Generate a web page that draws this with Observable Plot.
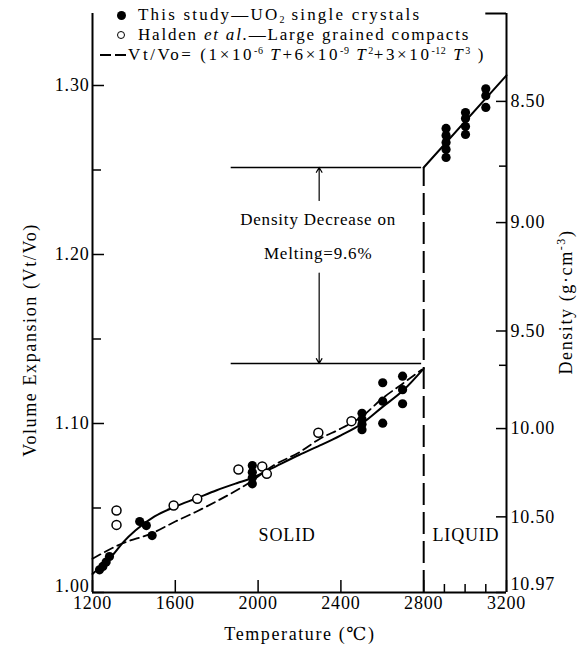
<!DOCTYPE html>
<html><head><meta charset="utf-8">
<script src="https://cdn.jsdelivr.net/npm/d3@7"></script>
<script src="https://cdn.jsdelivr.net/npm/@observablehq/plot@0.6"></script>
<style>
body{margin:0;background:#fff;}
#chart{position:relative;width:586px;height:651px;font-family:"Liberation Serif","DejaVu Serif",serif;color:#000;}
#chart svg{position:absolute;left:0;top:0;}
#chart svg text{letter-spacing:0.8px;}
#chart svg g[aria-label="phase"] text{letter-spacing:3px;}
#chart svg g[aria-label="note"] text{letter-spacing:1.2px;}
.lg{position:absolute;font-size:17px;white-space:nowrap;line-height:18px;height:18px;letter-spacing:1.6px;}
.lg .m{display:inline-block;width:36px;height:10px;position:relative;vertical-align:baseline;}
.lg .s{position:relative;font-size:10px;line-height:0;letter-spacing:0.5px;}
.ttl{position:absolute;font-size:18px;white-space:nowrap;letter-spacing:1.6px;line-height:20px;}
</style>
</head><body><div id="chart"></div>
<script>
// ---- data ----
const studyT = [1234,1250,1266,1282, 1428,1460,1488, 1972,1972,1972,1972, 2502,2502,2502,2502, 2602,2602,2602, 2698,2698,2698, 2908,2908,2908,2908,2908, 3002,3002,3002,3002, 3100,3100,3100];
const studyV = [1.0134,1.0154,1.018,1.0213, 1.042,1.0396,1.0337, 1.0751,1.0712,1.0679,1.0643, 1.106,1.1025,1.0995,1.0963, 1.1241,1.1132,1.1002, 1.128,1.120,1.1117, 1.2746,1.2704,1.2663,1.2621,1.2574, 1.2840,1.2805,1.2757,1.2710, 1.298,1.294,1.287];
const haldenT = [1316,1316,1592,1706,1905,2020,2042,2291,2451];
const haldenV = [1.0485,1.040,1.0515,1.0554,1.0728,1.0746,1.0702,1.0945,1.1014];
const fitT = [1200,1250,1300,1350,1407,1500,1600,1700,1800,1900,1961,2058,2200,2299,2400,2500,2600,2700,2800];
const fitV = [1.011,1.0165,1.0225,1.030,1.0367,1.045,1.0508,1.0556,1.0605,1.0648,1.0673,1.073,1.0815,1.087,1.093,1.0998,1.1097,1.1195,1.1325];
const formulaT = [1200,1343,1487,1600,1696,1800,1961,2074,2200,2299,2400,2500,2600,2700,2790];
const formulaV = [1.020,1.029,1.035,1.042,1.0475,1.054,1.0653,1.0751,1.083,1.091,1.097,1.104,1.1148,1.1237,1.1318];
const liquidT = [2800,3200];
const liquidV = [1.2515,1.306];
const meltT = 2800;
const meltLevels = [1.2515,1.1355]; // liquid / solid at melting
const xTicks = [1200,1600,2000,2400,2800,3200];
const xMinorTicks = [2900,3000,3100];
const yTicksUpper = [1.10,1.20,1.30];
const yTickBottom = [1.00];
const yMinorTicks = [1.05,1.15,1.25];
const densityRef = 10.97;
const densityTicksUpper = [8.50,9.00,9.50,10.00,10.50];
const densityTickBottom = [10.97];
const densityMinorTicks = [8.76,9.67];
const yTop = 1.3426;

const pts = (T,V) => T.map((t,i)=>({t, v:V[i]}));
const study = pts(studyT, studyV);
const halden = pts(haldenT, haldenV);
const fit = pts(fitT, fitV);
const formula = pts(formulaT, formulaV);
const liquid = pts(liquidT, liquidV);

const W = 586, H = 651, mL = 92, mR = 80, mT = 13, mB = 59;
const fw = W - mL - mR, fh = H - mT - mB;
const tickIn = (len) => fw - len;
const tickUp = (len) => fh - len;
const yAll = [...yTickBottom, ...yTicksUpper];
const dAll = [...densityTicksUpper, ...densityTickBottom];

const font = '"Liberation Serif","DejaVu Serif",serif';
const plot = Plot.plot({
  width: W, height: H,
  marginLeft: mL, marginRight: mR, marginTop: mT, marginBottom: mB,
  style: {fontFamily: font, fontSize: "18px", background: "transparent", color: "black", overflow: "visible"},
  x: {domain: [1200, 3200], axis: null, label: null},
  y: {domain: [1.00, yTop], axis: null, label: null},
  marks: [
    // frame
    Plot.ruleX([1200, 3200], {strokeWidth: 2}),
    Plot.ruleY([1.00], {strokeWidth: 2}),
    Plot.ruleY([yTop], {x1: 3100, x2: 3200, strokeWidth: 2}),
    // inward ticks
    Plot.tickX(xTicks, {x: d => d, insetTop: tickUp(12), strokeWidth: 1.5}),
    Plot.tickX(xMinorTicks, {x: d => d, insetTop: tickUp(8), strokeWidth: 1.5}),
    Plot.tickY(yAll, {y: d => d, insetRight: tickIn(12), strokeWidth: 1.5}),
    Plot.tickY(yMinorTicks, {y: d => d, insetRight: tickIn(9), strokeWidth: 1.5}),
    Plot.tickY(dAll, {y: d => densityRef / d, insetLeft: tickIn(10), strokeWidth: 1.5}),
    Plot.tickY(densityMinorTicks, {y: d => densityRef / d, insetLeft: tickIn(7), strokeWidth: 1.5}),
    // tick labels
    Plot.axisX({ticks: xTicks, tickSize: 0, tickPadding: 4, tickFormat: d => String(d), label: null}),
    Plot.axisY({ticks: yTicksUpper, tickSize: 0, tickPadding: 3, tickFormat: d => d.toFixed(2), label: null}),
    Plot.axisY({ticks: yTickBottom, tickSize: 0, tickPadding: 3, dy: -6, tickFormat: d => d.toFixed(2), label: null}),
    Plot.axisY({anchor: "right", ticks: densityTicksUpper.map(d => densityRef / d), tickSize: 0, tickPadding: 4, tickFormat: v => (densityRef / v).toFixed(2), label: null}),
    Plot.axisY({anchor: "right", ticks: densityTickBottom.map(d => densityRef / d), tickSize: 0, tickPadding: 4, dy: -8, tickFormat: v => (densityRef / v).toFixed(2), label: null}),
    // melting annotations
    Plot.ruleX([meltT], {y1: 1.00, y2: meltLevels[0], strokeWidth: 2, strokeDasharray: "22,7"}),
    Plot.ruleY(meltLevels, {x1: 1870, x2: 2790, strokeWidth: 1.5}),
    Plot.arrow([{y1: 1.232, y2: meltLevels[0]}, {y1: 1.189, y2: meltLevels[1]}], {x1: 2295, x2: 2295, y1: "y1", y2: "y2", headLength: 7, strokeWidth: 1.2}),
    Plot.text(["Density Decrease on", "Melting=9.6%"], {x: 2290, y: [1.2205, 1.2005], text: d => d, fontSize: 17, ariaLabel: "note"}),
    Plot.text(["SOLID", "LIQUID"], {x: [2140, 3004], y: 1.034, text: d => d, fontSize: 18, ariaLabel: "phase"}),
    // curves
    Plot.line(fit, {x: "t", y: "v", curve: "monotone-x", strokeWidth: 2}),
    Plot.line(formula, {x: "t", y: "v", curve: "monotone-x", strokeWidth: 1.8, strokeDasharray: "9,5"}),
    Plot.line(liquid, {x: "t", y: "v", strokeWidth: 2}),
    // points
    Plot.dot(halden, {x: "t", y: "v", r: 4.5, fill: "white", stroke: "black", strokeWidth: 1.5}),
    Plot.dot(study, {x: "t", y: "v", r: 4.6, fill: "black"})
  ]
});
const chart = document.getElementById("chart");
chart.appendChild(plot);

function add(html, cls, style){const d=document.createElement("div");d.className=cls;d.innerHTML=html;Object.assign(d.style,style);chart.appendChild(d);}
const sup = s => `<span class="s" style="top:-6px">${s}</span>`;
const sub = s => `<span class="s" style="top:3px">${s}</span>`;
const dotMark = '<span class="m"><span style="position:absolute;left:15px;top:1px;width:9px;height:9px;border-radius:50%;background:#000"></span></span>';
const ringMark = '<span class="m"><span style="position:absolute;left:15px;top:1px;width:6px;height:6px;border-radius:50%;border:1.5px solid #000;background:#fff"></span></span>';
const dashMark = '<span class="m" style="width:28px"><span style="position:absolute;left:0;top:4px;width:11px;border-top:2px solid #000"></span><span style="position:absolute;left:15px;top:4px;width:11px;border-top:2px solid #000"></span></span>';
add(dotMark + 'This study—UO' + sub('2') + ' single crystals', "lg", {top:"6px", left:"102px", letterSpacing:"2.2px"});
add(ringMark + 'Halden <i>et al.</i>—Large grained compacts', "lg", {top:"26px", left:"102px", letterSpacing:"1.8px"});
add(dashMark + 'Vt/Vo= (1×10' + sup('-6') + ' <i>T</i>+6×10' + sup('-9') + ' <i>T</i>' + sup('2') + '+3×10' + sup('-12') + ' <i>T</i>' + sup('3') + ' )', "lg", {top:"46px", left:"100px", letterSpacing:"2.6px"});
add('Volume Expansion (Vt/Vo)', "ttl", {left:"30px", top:"340px", transform:"translate(-50%,-50%) rotate(-90deg)"});
add('Density (g·cm' + '<span style="position:relative;top:-7px;font-size:12px;line-height:0">-3</span>' + ')', "ttl", {left:"566px", top:"302px", transform:"translate(-50%,-50%) rotate(-90deg)"});
add('Temperature (℃)', "ttl", {left:"300px", top:"634px", transform:"translate(-50%,-50%)"});
</script>
</body></html>
